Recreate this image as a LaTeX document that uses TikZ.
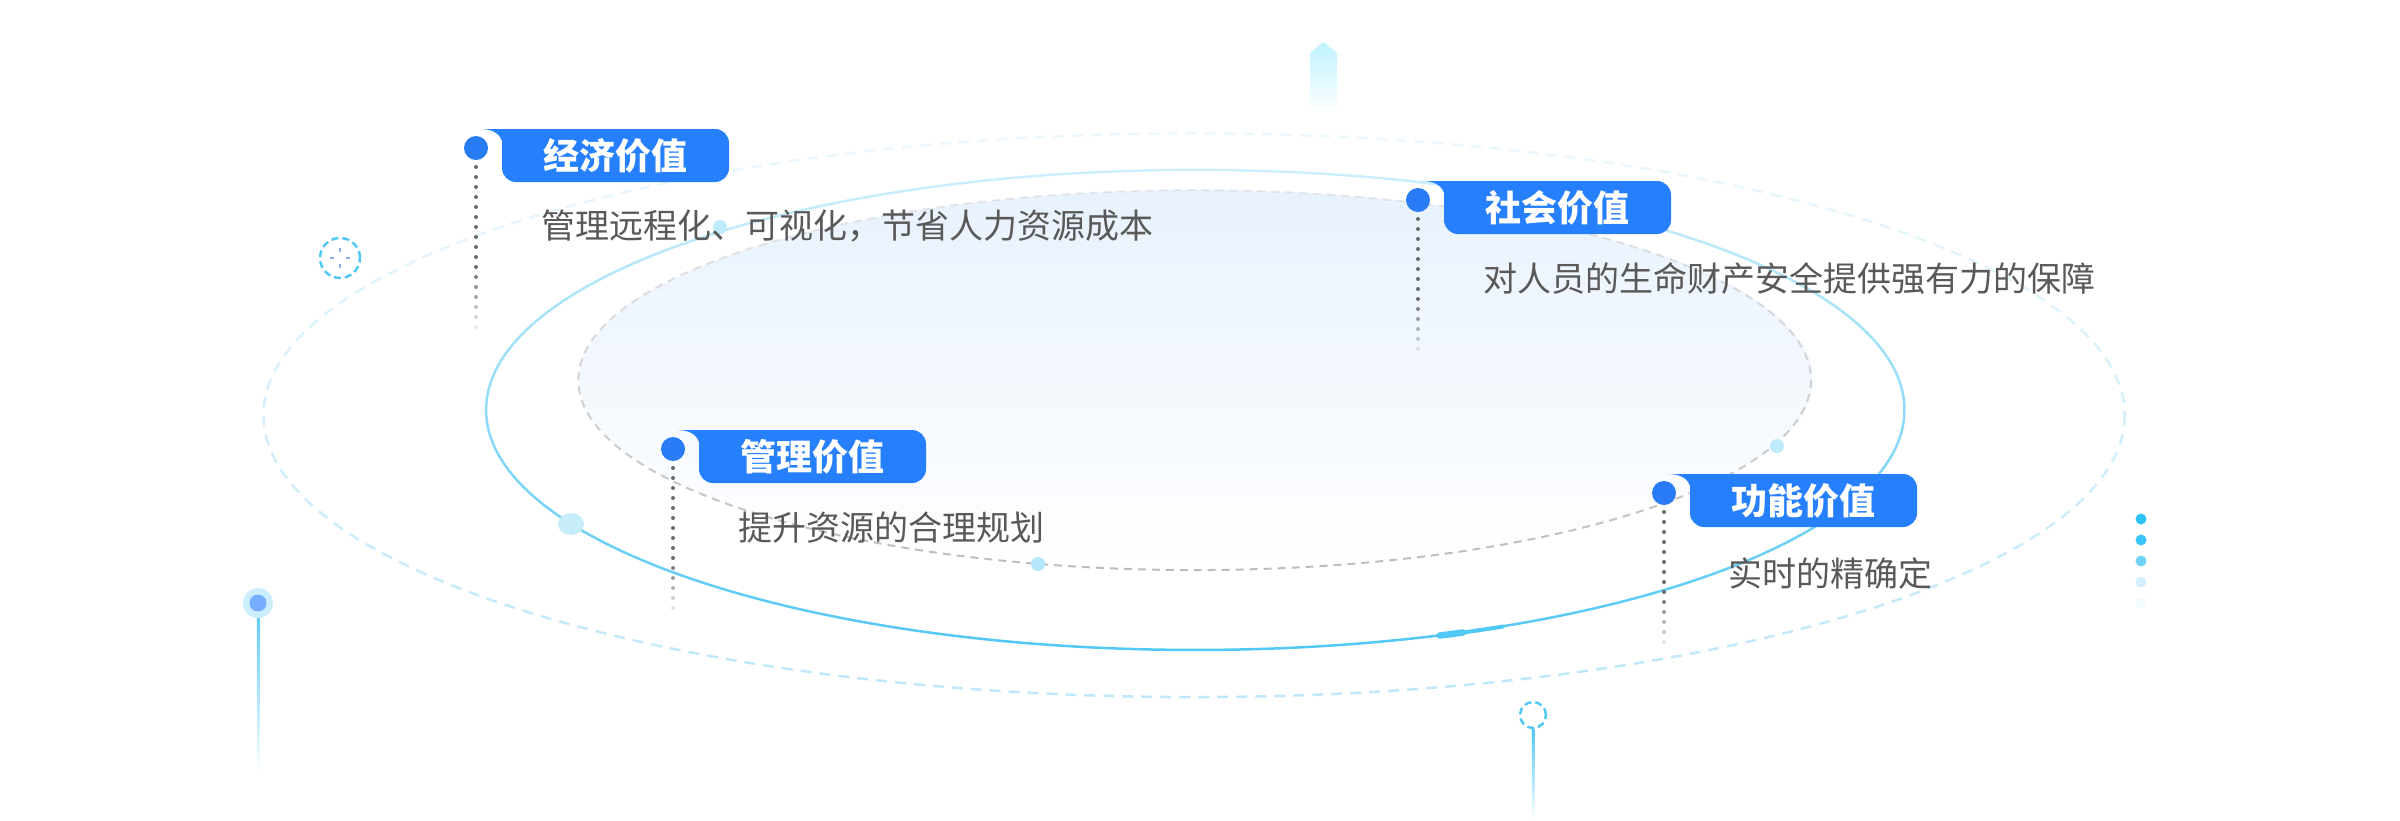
\documentclass[tikz,border=0pt]{standalone}
\usepackage{fontspec}
\newfontfamily\cjk{Noto Sans CJK SC}
\usetikzlibrary{fadings}

\definecolor{tagblue}{HTML}{2680FE}
\definecolor{dotblue}{HTML}{2A7CF6}
\definecolor{skyline}{HTML}{52C8F5}
\definecolor{paleline}{HTML}{BFE8FA}
\definecolor{greydash}{HTML}{BDBDBD}
\definecolor{innerblue}{HTML}{E8F2FD}
\definecolor{desctext}{HTML}{595959}
\definecolor{dotgrey}{HTML}{6A6A6A}
\definecolor{tickblue}{HTML}{90A7F3}
\definecolor{pinhalo}{HTML}{CDEEFD}
\definecolor{pincore}{HTML}{78AEFF}
\definecolor{sideA}{HTML}{2CC3F8}
\definecolor{sideB}{HTML}{38C6F8}
\definecolor{sideC}{HTML}{72D3F8}
\definecolor{sideD}{HTML}{D2F0FD}
\definecolor{sideE}{HTML}{F2FAFE}

\tikzfading[name=ringfade, top color=transparent!72, middle color=transparent!0, bottom color=transparent!0]

\tikzset{
	tagbox/.style={fill=tagblue, rounded corners=14pt, minimum width=227pt, minimum height=53pt,
		inner sep=0pt, text=white, font=\cjk\bfseries\fontsize{36}{40}\selectfont},
	valuedot/.style={circle, fill=dotblue, minimum size=24pt, inner sep=0pt},
	desc/.style={anchor=west, inner sep=0pt, text=desctext, font=\cjk\fontsize{34}{40}\selectfont},
	outerring/.style={draw=paleline, line width=2.5pt, dash pattern=on 11pt off 8pt, path fading=ringfade},
	midring/.style={draw=skyline, line width=2.5pt, path fading=ringfade},
	innerring/.style={draw=greydash, line width=2pt, dash pattern=on 8pt off 6pt, path fading=ringfade},
	ringmark/.style={circle, draw=skyline, line width=2.5pt, dash pattern=on 7pt off 4pt, inner sep=0pt},
	pinline/.style={top color=skyline, bottom color=white},
	tickmark/.style={draw=tickblue, line width=2pt}
}

\begin{document}
\begin{tikzpicture}[x=1pt, y=-1pt]
			\useasboundingbox (0, 0) rectangle (2400, 820);
			\fill[white] (0, 0) rectangle (2400, 820);

			%%draw the rings
			\shade[top color=innerblue, middle color=innerblue!55!white, bottom color=white]
				(1196, 380) ellipse [x radius=617, y radius=190];
			\draw[innerring] (1196, 380) ellipse [x radius=617, y radius=190];
			\draw[outerring] (1195, 415) ellipse [x radius=931, y radius=282];
			\draw[midring] (1197, 410) ellipse [x radius=710, y radius=240];
			%the bright streak on the blue ring
			\draw[skyline, line width=4pt, line cap=round] (1439.8, 635.5) arc[start angle=70, end angle=64.5, x radius=710, y radius=240];
			\draw[skyline, line width=6.5pt, line cap=round] (1439.8, 635.5) arc[start angle=70, end angle=68, x radius=710, y radius=240];

			%%small dots on the rings
			\fill[cyan!25!white] (720, 227) circle (7);
			\fill[cyan!22!white] (571, 524) ellipse [x radius=13, y radius=11];
			\fill[cyan!30!white] (1038, 564) circle (7);
			\fill[cyan!25!white] (1777, 446) circle (7);

			%%top marker
			\shade[top color=blue!20!cyan!25!white, middle color=blue!10!cyan!15!white, bottom color=white]
				(1310, 53) -- (1323.5, 42) -- (1337, 53) -- (1337, 113) -- (1310, 113) -- cycle;

			%%dashed ring with cross
			\node[ringmark, minimum size=40pt] (ringA) at (340, 258) {};
				\draw[tickmark] (340, 248) -- (340, 252);
				\draw[tickmark] (340, 264) -- (340, 268);
				\draw[tickmark] (330, 258) -- (334, 258);
				\draw[tickmark] (346, 258) -- (350, 258);

			%%pins
			\coordinate (pinL) at (258, 603);
			\coordinate (pinLend) at (258, 772);
			\shade[pinline] ([xshift=-1.25pt]pinL) rectangle ([xshift=1.25pt]pinLend);
				\fill[pinhalo] (pinL) circle (15);
				\fill[pincore] (pinL) circle (8.5);
			\node[ringmark, minimum size=26pt] (ringB) at (1533, 715) {};
			\coordinate (ringBend) at (1533, 820);
			\shade[pinline] ([xshift=-1.25pt]ringB.south) rectangle ([xshift=1.25pt]ringBend);

			%%right column of dots
			\fill[sideA] (2141, 519) circle (5.5);
			\fill[sideB] (2141, 540) circle (5.5);
			\fill[sideC] (2141, 561) circle (5.5);
			\fill[sideD] (2141, 582) circle (5.5);
			\fill[sideE] (2141, 603) circle (5.5);

			%%the value tags
			%economic
			\fill[tagblue] (480, 129) -- (518, 129) -- (518, 145) -- (502, 145) -- (502, 141) .. controls (499, 132) and (490, 129) .. (480, 129) -- cycle;
			\node[tagbox] (titleA) at (615.5, 155.5) {经济价值};
			\node[valuedot] (dotA) at (476, 148) {};
			\foreach \k [evaluate=\k as \op using {min(1, (17-\k)/7)}] in {0,...,16}
				\fill[dotgrey, opacity=\op] ([yshift={-19pt-\k*10pt}]dotA.center) circle (2);
				\node[desc] (descA) at (541, 226) {管理远程化、可视化，节省人力资源成本};
			%social
			\fill[tagblue] (1422, 181) -- (1460, 181) -- (1460, 197) -- (1444, 197) -- (1444, 193) .. controls (1441, 184) and (1432, 181) .. (1422, 181) -- cycle;
			\node[tagbox] (titleB) at (1557.5, 207.5) {社会价值};
			\node[valuedot] (dotB) at (1418, 200) {};
			\foreach \k [evaluate=\k as \op using {min(1, (14-\k)/6)}] in {0,...,13}
				\fill[dotgrey, opacity=\op] ([yshift={-19pt-\k*10pt}]dotB.center) circle (2);
				\node[desc] (descB) at (1483, 279) {对人员的生命财产安全提供强有力的保障};
			%management
			\fill[tagblue] (677, 430) -- (715, 430) -- (715, 446) -- (699, 446) -- (699, 442) .. controls (696, 433) and (687, 430) .. (677, 430) -- cycle;
			\node[tagbox] (titleC) at (812.5, 456.5) {管理价值};
			\node[valuedot] (dotC) at (673, 449) {};
			\foreach \k [evaluate=\k as \op using {min(1, (15-\k)/6)}] in {0,...,14}
				\fill[dotgrey, opacity=\op] ([yshift={-19pt-\k*10pt}]dotC.center) circle (2);
				\node[desc] (descC) at (738, 528) {提升资源的合理规划};
			%function
			\fill[tagblue] (1668, 474) -- (1706, 474) -- (1706, 490) -- (1690, 490) -- (1690, 486) .. controls (1687, 477) and (1678, 474) .. (1668, 474) -- cycle;
			\node[tagbox] (titleD) at (1803.5, 500.5) {功能价值};
			\node[valuedot] (dotD) at (1664, 493) {};
			\foreach \k [evaluate=\k as \op using {min(1, (14-\k)/6)}] in {0,...,13}
				\fill[dotgrey, opacity=\op] ([yshift={-19pt-\k*10pt}]dotD.center) circle (2);
				\node[desc] (descD) at (1728, 573) {实时的精确定};
		\end{tikzpicture}
\end{document}
